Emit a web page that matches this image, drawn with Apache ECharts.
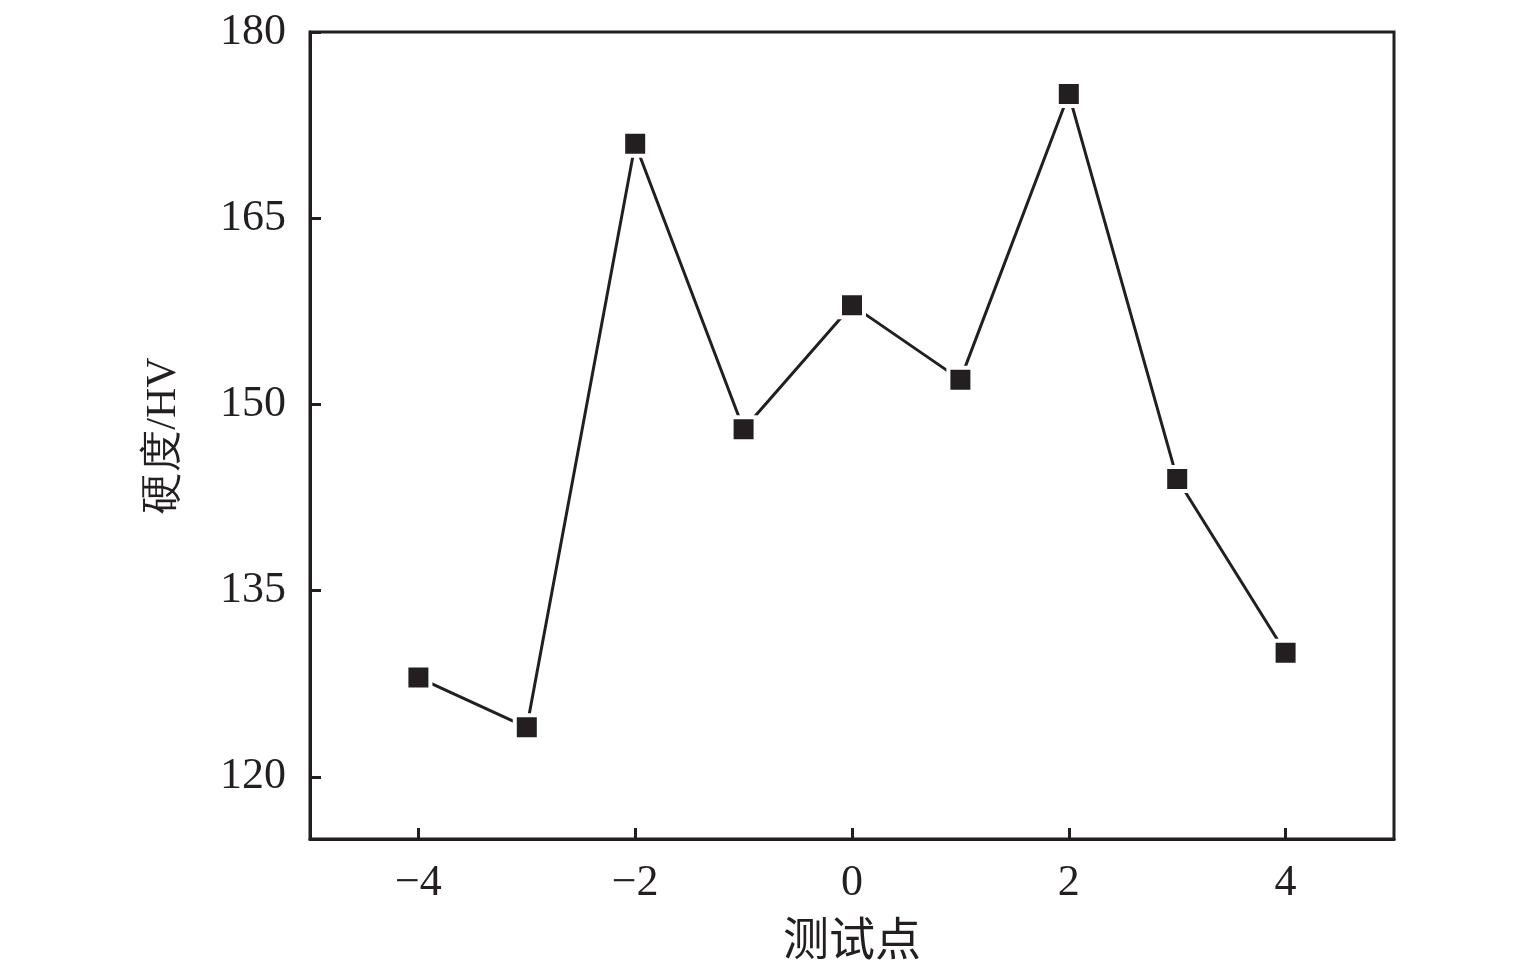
<!DOCTYPE html>
<html><head><meta charset="utf-8">
<script src="https://cdn.jsdelivr.net/npm/echarts@6/dist/echarts.min.js"></script>
<style>html,body{margin:0;padding:0;background:#fff}#c{width:1535px;height:976px}</style>
</head><body><div id="c"></div>
<script>
const xValues = [-4, -3, -2, -1, 0, 1, 2, 3, 4];
const hardness = [128, 124, 171, 148, 158, 152, 175, 144, 130];
const xTicks = [-4, -2, 0, 2, 4];
const yTicks = [120, 135, 150, 165, 180];
const xName = '测试点';
const yName = '硬度/HV';

const ink = '#231f20';
const chart = echarts.init(document.getElementById('c'));
chart.setOption({
  animation: false,
  grid: {left: 310, right: 141, top: 32, bottom: 137, show: true, borderColor: ink, borderWidth: 3, backgroundColor: 'transparent'},
  xAxis: {
    type: 'value', min: -5, max: 5,
    name: xName, nameLocation: 'middle', nameGap: 76,
    nameTextStyle: {fontFamily: 'Noto Sans CJK SC', fontSize: 46, color: ink},
    axisLine: {onZero: false, lineStyle: {color: ink, width: 3}},
    axisTick: {inside: true, length: 11, lineStyle: {color: ink, width: 3}, customValues: xTicks},
    axisLabel: {customValues: xTicks, margin: 22, fontFamily: 'Liberation Serif', fontSize: 44, color: ink,
      formatter: v => (v < 0 ? '\u2212' + Math.abs(v) : String(v))},
    splitLine: {show: false}
  },
  yAxis: {
    type: 'value', min: 115, max: 180,
    name: yName, nameLocation: 'middle', nameGap: 125, nameRotate: 90,
    nameTextStyle: {fontFamily: 'Liberation Serif', fontSize: 42, color: ink},
    axisLine: {show: true, onZero: false, lineStyle: {color: ink, width: 3}},
    axisTick: {show: true, inside: true, length: 11, lineStyle: {color: ink, width: 3}, customValues: yTicks},
    axisLabel: {customValues: yTicks, margin: 24, fontFamily: 'Liberation Serif', fontSize: 44, color: ink},
    splitLine: {show: false}
  },
  series: [{
    type: 'line',
    data: xValues.map((x, i) => [x, hardness[i]]),
    symbol: 'rect', symbolSize: 24,
    itemStyle: {color: ink, borderColor: '#fff', borderWidth: 4},
    lineStyle: {color: ink, width: 3}
  }]
});
</script></body></html>
